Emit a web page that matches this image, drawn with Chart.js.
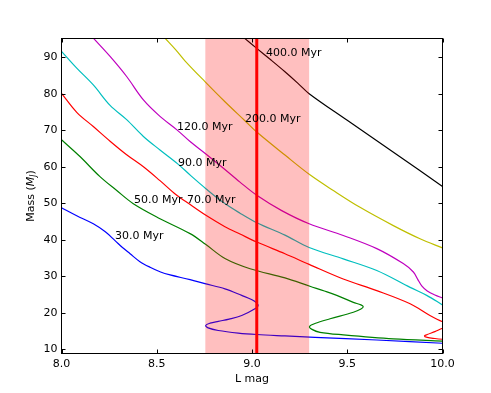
<!DOCTYPE html>
<html><head><meta charset="utf-8">
<script src="https://cdn.jsdelivr.net/npm/chart.js@4.4.0/dist/chart.umd.min.js"></script>
<style>html,body{margin:0;padding:0;background:#fff;}canvas{display:block;}</style>
</head><body>
<canvas id="c" width="491" height="393"></canvas>
<script>
// ---- data ----
const xTicks = [8.0, 8.5, 9.0, 9.5, 10.0];
const yTicks = [10, 20, 30, 40, 50, 60, 70, 80, 90];
const ageLabels = ['30.0 Myr', '50.0 Myr', '70.0 Myr', '90.0 Myr', '120.0 Myr', '200.0 Myr', '400.0 Myr'];
const labelLmag = [8.281, 8.381, 8.659, 8.612, 8.606, 8.963, 9.073];
const labelMass = [40.9, 50.8, 50.8, 60.9, 70.8, 73.0, 91.0];

const lmag30 = [8.00,8.08,8.167,8.23,8.281,8.32,8.36,8.41,8.465,8.52,8.57,8.675,8.753,8.858,8.946,9.00,9.025,9.032,9.02,8.946,8.88,8.823,8.78,8.757,8.77,8.823,8.928,9.025,9.173,9.33,9.655,10.0];
const mass30 = [48.8,46.6,44.4,42.2,39.8,37.9,36.2,34.1,32.5,31.2,30.4,29.1,28.0,26.6,24.8,23.6,22.7,22.0,21.3,19.3,18.3,17.7,17.2,16.6,15.9,15.2,14.5,14.1,13.7,13.3,12.6,11.7];

const lmag50 = [8.0,8.097,8.202,8.29,8.377,8.517,8.675,8.758,8.858,8.99,9.173,9.304,9.38,9.445,9.532,9.572,9.584,9.572,9.532,9.41,9.33,9.302,9.315,9.357,9.479,9.742,10.0];
const mass50 = [67.4,62.8,57.3,53.5,49.9,45.8,41.7,38.7,34.9,32.1,29.6,27.3,26.0,24.8,22.9,22.2,21.7,21.1,20.2,18.4,17.1,16.3,15.5,14.7,14.0,12.9,12.3];

const lmag70 = [8.0,8.08,8.167,8.255,8.342,8.43,8.517,8.6,8.66,8.758,8.858,8.937,9.025,9.173,9.3,9.479,9.655,9.83,9.934,10.0,10.06,10.0,9.96,9.92,9.905,9.92,9.96,10.0,10.06];
const mass70 = [80.1,74.9,71.0,67.0,63.3,60.0,56.2,52.4,50.2,46.7,43.6,41.6,39.4,36.2,33.3,29.3,26.1,22.5,19.3,17.6,16.7,15.8,14.9,14.1,13.7,13.3,13.0,12.8,12.6];

const lmag90 = [8.0,8.08,8.167,8.255,8.342,8.43,8.517,8.61,8.68,8.758,8.85,8.937,9.025,9.173,9.3,9.479,9.655,9.83,9.917,10.0];
const mass90 = [91.6,87.0,82.4,76.8,72.9,68.3,64.6,60.8,57.5,54.0,50.2,47.3,44.7,41.3,37.9,34.8,31.6,27.0,24.8,22.2];

const lmag120 = [8.167,8.255,8.342,8.43,8.517,8.606,8.675,8.753,8.85,8.937,9.025,9.156,9.3,9.479,9.655,9.794,9.847,9.87,9.891,9.92,9.96,10.0];
const mass120 = [95.2,90.2,84.7,78.3,73.8,70.1,66.9,63.7,59.6,55.8,52.2,48.0,44.4,41.2,37.6,33.5,31.2,29.2,27.4,26.0,24.9,24.1];

const lmag200 = [8.543,8.6,8.648,8.753,8.858,8.963,9.025,9.173,9.304,9.427,9.567,9.742,9.882,10.0];
const mass200 = [95.2,92.0,89.0,83.3,77.8,72.6,69.5,63.2,57.8,53.5,48.9,43.9,40.3,37.8];

const lmag400 = [8.96,9.025,9.1,9.173,9.24,9.3,9.5,9.75,10.0];
const mass400 = [95.2,92.4,89.2,86.0,82.9,80.0,72.7,63.7,54.6];

const bandRange = [8.755, 9.30];
const markerLmag = 9.025;

// ---- build datasets ----
function pts(xs, ys){ return xs.map((v,i)=>({x:v, y:ys[i]})); }
const series = [
  {d: pts(lmag30, mass30), c: '#0000ff'},
  {d: pts(lmag50, mass50), c: '#008000'},
  {d: pts(lmag70, mass70), c: '#ff0000'},
  {d: pts(lmag90, mass90), c: '#00bfbf'},
  {d: pts(lmag120, mass120), c: '#bf00bf'},
  {d: pts(lmag200, mass200), c: '#bfbf00'},
  {d: pts(lmag400, mass400), c: '#000000'}
];
const FONT = '"DejaVu Sans", sans-serif';

const overlay = {
  id: 'overlay',
  afterDatasetsDraw(chart){
    const {ctx, chartArea:a, scales:{x, y}} = chart;
    ctx.save();
    ctx.beginPath(); ctx.rect(a.left, a.top, a.right-a.left, a.bottom-a.top); ctx.clip();
    const x0 = x.getPixelForValue(bandRange[0]), x1 = x.getPixelForValue(bandRange[1]);
    ctx.fillStyle = 'rgba(255,0,0,0.25)';
    ctx.fillRect(x0, a.top, x1-x0, a.bottom-a.top);
    const xm = x.getPixelForValue(markerLmag);
    ctx.strokeStyle = '#ff0000'; ctx.lineWidth = 3;
    ctx.beginPath(); ctx.moveTo(xm, a.top); ctx.lineTo(xm, a.bottom); ctx.stroke();
    ctx.restore();
    ctx.save();
    ctx.font = '11px ' + FONT; ctx.fillStyle = '#000'; ctx.textAlign = 'left'; ctx.textBaseline = 'middle';
    ageLabels.forEach((t,i)=>ctx.fillText(t, x.getPixelForValue(labelLmag[i]), y.getPixelForValue(labelMass[i])));
    ctx.restore();
  },
  afterDraw(chart){
    const {ctx, chartArea:a, scales:{x, y}} = chart;
    ctx.save();
    ctx.strokeStyle = '#000'; ctx.lineWidth = 1;
    ctx.strokeRect(a.left, a.top, a.right-a.left, a.bottom-a.top);
    const L = 4;
    ctx.beginPath();
    xTicks.forEach(v=>{ const p = Math.round(x.getPixelForValue(v))+0.5;
      ctx.moveTo(p, a.bottom); ctx.lineTo(p, a.bottom-L); ctx.moveTo(p, a.top); ctx.lineTo(p, a.top+L); });
    yTicks.forEach(v=>{ const p = Math.round(y.getPixelForValue(v))+0.5;
      ctx.moveTo(a.left, p); ctx.lineTo(a.left+L, p); ctx.moveTo(a.right, p); ctx.lineTo(a.right-L, p); });
    ctx.stroke();
    // axis titles
    ctx.fillStyle = '#000';
    ctx.font = '11px ' + FONT; ctx.textAlign = 'center'; ctx.textBaseline = 'middle';
    ctx.fillText('L mag', (a.left+a.right)/2, 379);
    ctx.translate(30, (a.top+a.bottom)/2);
    ctx.rotate(-Math.PI/2);
    ctx.textAlign = 'left'; ctx.textBaseline = 'alphabetic';
    const parts = [
      {t:'Mass (', f:'11px ' + FONT, dy:0},
      {t:'M', f:'italic 11px ' + FONT, dy:0},
      {t:'J', f:'italic 8px ' + FONT, dy:2},
      {t:')', f:'11px ' + FONT, dy:0}
    ];
    let tot = 0;
    parts.forEach(p=>{ ctx.font = p.f; p.w = ctx.measureText(p.t).width; tot += p.w; });
    let cx = -tot/2;
    parts.forEach(p=>{ ctx.font = p.f; ctx.fillText(p.t, cx, 4 + p.dy); cx += p.w; });
    ctx.restore();
  }
};

new Chart(document.getElementById('c'), {
  type: 'scatter',
  data: {
    datasets: series.map(s=>({
      data: s.d, showLine: true, borderColor: s.c, backgroundColor: s.c,
      borderWidth: 1.2, pointRadius: 0, tension: 0.35, fill: false
    }))
  },
  options: {
    responsive: false, animation: false, devicePixelRatio: 1,
    layout: {padding: {left: 0, right: 48.5, top: 38.5, bottom: 0}},
    plugins: {legend: {display: false}, tooltip: {enabled: false}},
    scales: {
      x: {
        type: 'linear', min: 8, max: 10,
        afterBuildTicks: s => { s.ticks = xTicks.map(v=>({value:v})); },
        afterFit: s => { s.height = 39.5; },
        grid: {display: false, drawTicks: false}, border: {display: false},
        ticks: {color: '#000', font: {family: 'DejaVu Sans', size: 11}, padding: 4, maxRotation: 0,
                callback: v => Number(v).toFixed(1)}
      },
      y: {
        type: 'linear', min: 8.9, max: 95.1,
        afterBuildTicks: s => { s.ticks = yTicks.map(v=>({value:v})); },
        afterFit: s => { s.width = 61.5; },
        grid: {display: false, drawTicks: false}, border: {display: false},
        ticks: {color: '#000', font: {family: 'DejaVu Sans', size: 11}, padding: 4,
                callback: v => String(v)}
      }
    }
  },
  plugins: [overlay]
});
</script>
</body></html>
